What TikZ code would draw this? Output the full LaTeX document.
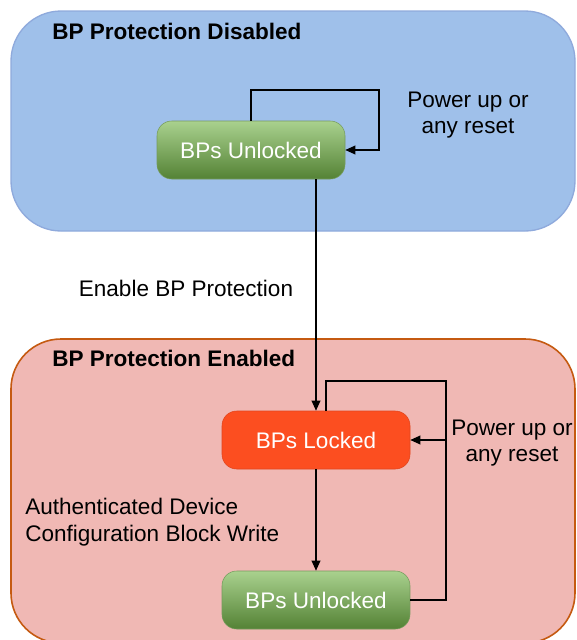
\documentclass[tikz,border=0pt]{standalone}
\usepackage{fontspec}
\setmainfont{Liberation Sans}
\usetikzlibrary{arrows.meta}

\definecolor{zoneblue}{RGB}{159,192,234}
\definecolor{zoneblueline}{RGB}{143,170,220}
\definecolor{zonepink}{RGB}{240,184,180}
\definecolor{zonepinkline}{RGB}{197,90,17}
\definecolor{greentop}{RGB}{169,209,142}
\definecolor{greenmid}{RGB}{116,176,74}
\definecolor{greenbot}{RGB}{84,130,53}
\definecolor{lockred}{RGB}{252,78,32}
\definecolor{lockline}{RGB}{224,70,30}

\tikzset{
  state/.style={rounded corners=11pt, minimum width=141pt, minimum height=43.5pt, inner sep=0pt, text=white},
  openstate/.style={state, draw=greenbot!80, top color=greentop, middle color=greenmid, bottom color=greenbot},
  lockstate/.style={state, draw=lockline, fill=lockred},
  conn/.style={line width=1pt, -{Triangle[length=7.5pt,width=6.5pt]}},
  wire/.style={line width=1pt},
  heading/.style={anchor=west, inner sep=0pt, font=\bfseries},
  note/.style={inner sep=0pt, align=center}
}

\begin{document}
\begin{tikzpicture}[x=0.75pt,y=0.75pt,yscale=-1,xscale=1]
\fontsize{16.9}{19.8}\selectfont
\useasboundingbox (0,0) rectangle (576,640);
\clip (0,0) rectangle (576,640);

%Zones
\draw [fill=zoneblue, draw=zoneblueline, line width=1pt, rounded corners=37.5pt] (11,11) rectangle (575,231);
\draw [fill=zonepink, draw=zonepinkline, line width=1.2pt, rounded corners=37.5pt] (11,339) rectangle (575,643);

% Headings
\node [heading] (offhead) at (52,31) {BP Protection Disabled};
\node [heading] (onhead) at (52,358) {BP Protection Enabled};

% States
\node [openstate] (free) at (251,150) {BPs Unlocked};
\node [lockstate] (lock) at (316,440) {BPs Locked};
\node [openstate] (reopen) at (316,600) {BPs Unlocked};

% Loop corners
\coordinate (loopA) at (379,90);
\coordinate (loopB) at (446,381);

% Transitions
\draw [conn] (free.north) |- (loopA) |- (free.east);
\draw [conn] (free.south -| lock.north) -- (lock.north);
\draw [wire] (reopen.east) -| (loopB);
\draw [conn] ([xshift=7.5pt]lock.north) |- (loopB) |- (lock.east);
\draw [conn] (lock.south) -- (reopen.north);

% Labels
\node [note] (resetA) at (468,115) {Power up or\\any reset};
\node [note] (enable) at (186,288) {Enable BP Protection};
\node [note] (resetB) at (512,443) {Power up or\\any reset};
\node [note, align=left, anchor=west] (authwrite) at (25,522) {Authenticated Device\\Configuration Block Write};

\end{tikzpicture}
\end{document}
